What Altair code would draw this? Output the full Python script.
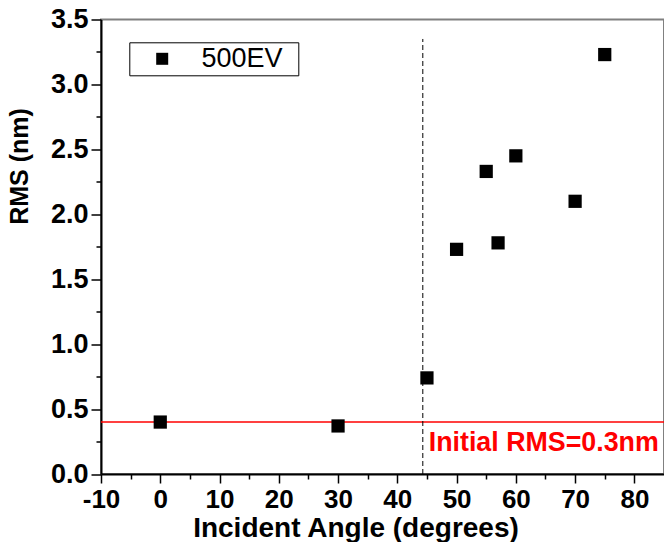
import altair as alt
import pandas as pd

# ---- data ----
angles = [0, 30, 45, 50, 55, 57, 60, 70, 75]
rms_values = [0.40, 0.37, 0.74, 1.73, 2.33, 1.78, 2.45, 2.10, 3.23]
series_name = ["500EV"] * len(angles)

x_domain = [-10, 85]
y_domain = [0, 3.5]
x_major = [-10, 0, 10, 20, 30, 40, 50, 60, 70, 80]
x_minor = [-5, 5, 15, 25, 35, 45, 55, 65, 75]
y_major = [0.0, 0.5, 1.0, 1.5, 2.0, 2.5, 3.0, 3.5]
y_minor = [0.25, 0.75, 1.25, 1.75, 2.25, 2.75, 3.25]

initial_rms_level = [0.40]
cutoff_angle = [44.3]
cutoff_top = [3.35]
note_label = ["Initial RMS=0.3nm"]
note_angle = [45.3]
note_rms = [0.18]

FONT = "Liberation Sans, Arial, sans-serif"

df = pd.DataFrame({"angle": angles, "rms": rms_values, "series": series_name})
hline = pd.DataFrame({"level": initial_rms_level})
vline = pd.DataFrame({"angle": cutoff_angle, "y0": [0.0], "y1": cutoff_top})
note = pd.DataFrame({"angle": note_angle, "rms": note_rms, "txt": note_label})

xs = alt.Scale(domain=x_domain, nice=False, zero=False)
ys = alt.Scale(domain=y_domain, nice=False, zero=False)

x_axis = alt.Axis(
    values=x_major, orient="bottom", grid=False, title="Incident Angle (degrees)",
    labelExpr="replace(datum.label, '\u2212', '-')",
    domainColor="black", domainWidth=2, tickColor="black", tickWidth=1.5, tickSize=9,
    labelFont=FONT, labelFontSize=26, labelFontWeight="bold", labelColor="black",
    labelPadding=3, labelFlush=False, labelOverlap=False,
    titleFont=FONT, titleFontSize=28, titleFontWeight="bold", titleColor="black",
    titleX=254.5, titleY=62, titleAlign="center", titleBaseline="alphabetic",
)
y_axis = alt.Axis(
    values=y_major, orient="left", grid=False, title="RMS (nm)", format=".1f",
    domainColor="black", domainWidth=2, tickColor="black", tickWidth=1.5, tickSize=10,
    labelFont=FONT, labelFontSize=27, labelFontWeight="bold", labelColor="black",
    labelPadding=3, labelFlush=False, labelOverlap=False,
    titleFont=FONT, titleFontSize=25, titleFontWeight="bold", titleColor="black",
    titleAngle=270, titleX=-73.5, titleY=146.5, titleAlign="center",
    titleBaseline="alphabetic",
)
x_minor_axis = alt.Axis(values=x_minor, orient="bottom", labels=False, domain=False,
                        grid=False, title=None, tickSize=5, tickColor="black", tickWidth=1.5)
y_minor_axis = alt.Axis(values=y_minor, orient="left", labels=False, domain=False,
                        grid=False, title=None, tickSize=5, tickColor="black", tickWidth=1.5)

red_line = alt.Chart(hline).mark_rule(color="#ff0000", strokeWidth=1.5).encode(
    y=alt.Y("level:Q", scale=ys, axis=None)
)
dash_line = alt.Chart(vline).mark_rule(color="black", strokeWidth=1, strokeDash=[5, 3]).encode(
    x=alt.X("angle:Q", scale=xs, axis=None),
    y=alt.Y("y0:Q", scale=ys, axis=None),
    y2="y1:Q",
)
points = alt.Chart(df).mark_square(size=175, opacity=1).encode(
    x=alt.X("angle:Q", scale=xs, axis=x_axis),
    y=alt.Y("rms:Q", scale=ys, axis=y_axis),
    color=alt.Color(
        "series:N",
        scale=alt.Scale(range=["black"]),
        legend=alt.Legend(
            title=" ", titleOrient="right", titleFontSize=10, titlePadding=13,
            orient="none", legendX=28.3, legendY=22.8,
            strokeColor="black", fillColor="white", padding=3,
            symbolType="square", symbolSize=144, symbolStrokeWidth=0,
            symbolOffset=16.4, labelOffset=25.7,
            labelFont=FONT, labelFontSize=27, labelColor="black",
        ),
    ),
)
minor = alt.Chart(df).mark_square(opacity=0).encode(
    x=alt.X("angle:Q", scale=xs, axis=x_minor_axis),
    y=alt.Y("rms:Q", scale=ys, axis=y_minor_axis),
)
note_text = alt.Chart(note).mark_text(
    align="left", baseline="alphabetic", color="#ff0000",
    font=FONT, fontSize=26.8, fontWeight="bold",
).encode(
    x=alt.X("angle:Q", scale=xs, axis=None),
    y=alt.Y("rms:Q", scale=ys, axis=None),
    text="txt:N",
)

chart = (
    alt.layer(red_line, dash_line, points, minor, note_text)
    .resolve_axis(x="independent", y="independent")
    .properties(
        width=563, height=454.5,
        padding={"left": 93, "top": 11.5, "right": 0, "bottom": 68},
        autosize=alt.AutoSizeParams(type="none"),
    )
    .configure_view(stroke="#808080", strokeWidth=2)
)

chart.save("out.html", embed_options={"renderer": "svg", "actions": False})
